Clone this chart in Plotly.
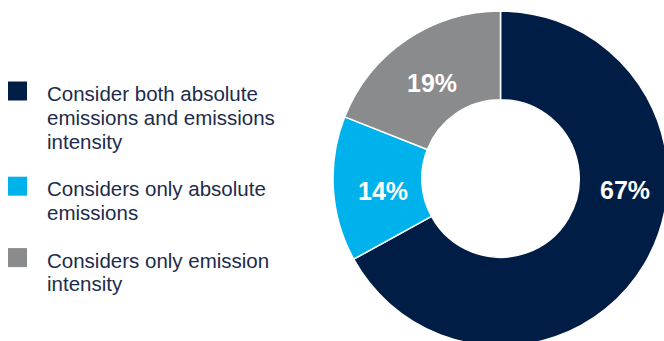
import plotly.graph_objects as go

# ---- data ----
categories = [
    "Consider both absolute<br>emissions and emissions<br>intensity",
    "Considers only absolute<br>emissions",
    "Considers only emission<br>intensity",
]
values = [67, 14, 19]
value_labels = ["67%", "14%", "19%"]
colors = ["#001E45", "#00B2EC", "#8A8B8D"]

# ---- layout constants (pixels) ----
W, H = 670, 347
cx, cy, r = 500.5, 178.5, 167.5
label_pos = [(625, 190), (383, 191), (432, 83)]
text_color = "#1C2B4B"
legend_font = 20.5
sq_x, text_x = 17.5, 45
baseline0, step = 100.5, 23.8

fig = go.Figure()

fig.add_trace(go.Pie(
    values=values,
    labels=[c.replace("<br>", " ") for c in categories],
    sort=False,
    direction="clockwise",
    rotation=0,
    hole=0.47,
    marker=dict(colors=colors, line=dict(color="white", width=1.5)),
    textinfo="none",
    hoverinfo="label+percent",
    showlegend=False,
    domain=dict(x=[(cx - r) / W, (cx + r) / W],
                y=[(H - cy - r) / H, (H - cy + r) / H]),
))

annotations = []
sq_y = []
line = 0
for i, cat in enumerate(categories):
    lines = cat.split("<br>")
    sq_y.append(baseline0 + step * line - 9.5)
    for t in lines:
        annotations.append(dict(
            x=text_x, y=baseline0 + step * line - 7, xref="x", yref="y",
            text=t, showarrow=False, xanchor="left", yanchor="middle",
            font=dict(family="Liberation Sans", size=legend_font, color=text_color),
        ))
        line += 1
    line += 1

fig.add_trace(go.Scatter(
    x=[sq_x] * len(categories), y=sq_y, mode="markers",
    marker=dict(symbol="square", size=19, color=colors, line=dict(width=0)),
    hoverinfo="skip", showlegend=False,
))

for (lx, ly), t in zip(label_pos, value_labels):
    annotations.append(dict(
        x=lx, y=ly, xref="x", yref="y", text=t, showarrow=False,
        xanchor="center", yanchor="middle",
        font=dict(family="Liberation Sans", size=25, color="white", weight="bold"),
    ))

fig.update_layout(
    width=W, height=H,
    margin=dict(l=0, r=0, t=0, b=0),
    paper_bgcolor="white", plot_bgcolor="rgba(0,0,0,0)",
    xaxis=dict(range=[0, W], visible=False, fixedrange=True, domain=[0, 1]),
    yaxis=dict(range=[H, 0], visible=False, fixedrange=True, domain=[0, 1]),
    annotations=annotations,
    showlegend=False,
)

fig.write_html(
    "out.html",
    config={"displayModeBar": False},
    post_script="document.body.style.margin='0';document.body.style.overflow='hidden';document.documentElement.style.overflow='hidden';",
)
